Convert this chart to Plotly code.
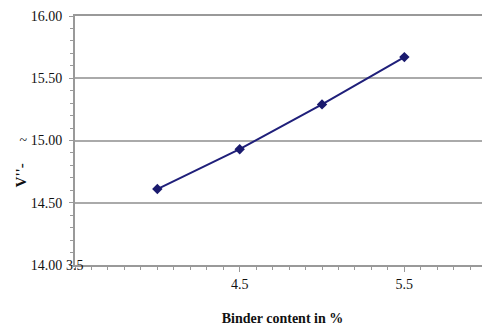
import plotly.graph_objects as go

binder = [4.0, 4.5, 5.0, 5.5]
vfa = [14.61, 14.93, 15.29, 15.67]
y_ticks = [14.0, 14.5, 15.0, 15.5, 16.0]
y_ticktext = ["14.00", "14.50", "~ 15.00", "15.50", "16.00"]
x_ticks = [4.5, 5.5]
x_ticktext = ["4.5", "5.5"]

font = "Liberation Serif"
tfont = dict(family=font, size=14, color="#111")

fig = go.Figure()
fig.add_trace(go.Scatter(
    x=binder, y=vfa, mode="lines+markers",
    line=dict(color="#1f1f7a", width=2),
    marker=dict(symbol="diamond", size=8, color="#1a1a6e"),
    showlegend=False,
    cliponaxis=False,
))

fig.add_annotation(x=3.5, y=14.0, xref="x", yref="y", text="3.5",
                   showarrow=False, xanchor="center", yanchor="middle",
                   font=tfont)

# y-axis title placed off-centre as in the reference
fig.add_annotation(x=-0.13, y=0.36, xref="paper", yref="paper", text="<b>V''-</b>",
                   showarrow=False, textangle=-90, xanchor="center", yanchor="middle",
                   font=dict(family=font, size=15, color="#111"))

# page body has an 8px default margin, so the figure is 8px smaller
fig.update_layout(
    width=482, height=328,
    margin=dict(l=67, r=0, t=8, b=71),
    paper_bgcolor="white", plot_bgcolor="white",
    font=tfont,
    xaxis=dict(
        range=[3.5, 6.02], tickvals=x_ticks, ticktext=x_ticktext, tickfont=tfont,
        showgrid=False, zeroline=False, automargin=False,
        showline=True, linecolor="#999", linewidth=2, mirror=True,
        ticks="outside", ticklen=5, tickcolor="#999", tickwidth=1,
        minor=dict(dtick=0.1, tick0=3.5, ticks="outside", ticklen=3, tickcolor="#999", showgrid=False),
        ticklabelstandoff=0,
        title=dict(text="<b>Binder content in %</b>", font=dict(family=font, size=14), standoff=22),
    ),
    yaxis=dict(
        range=[14.0, 16.0], tickvals=y_ticks, ticktext=y_ticktext, tickfont=tfont,
        showgrid=True, gridcolor="#aaaaaa", gridwidth=2,
        zeroline=False, showline=True, linecolor="#999", linewidth=2,
        automargin=False,
        ticks="outside", ticklen=4, tickcolor="#999",
        minor=dict(dtick=0.1, ticks="outside", ticklen=3, tickcolor="#999", showgrid=False),
        ticklabelstandoff=4,
    ),
)

fig.write_html("out.html")
